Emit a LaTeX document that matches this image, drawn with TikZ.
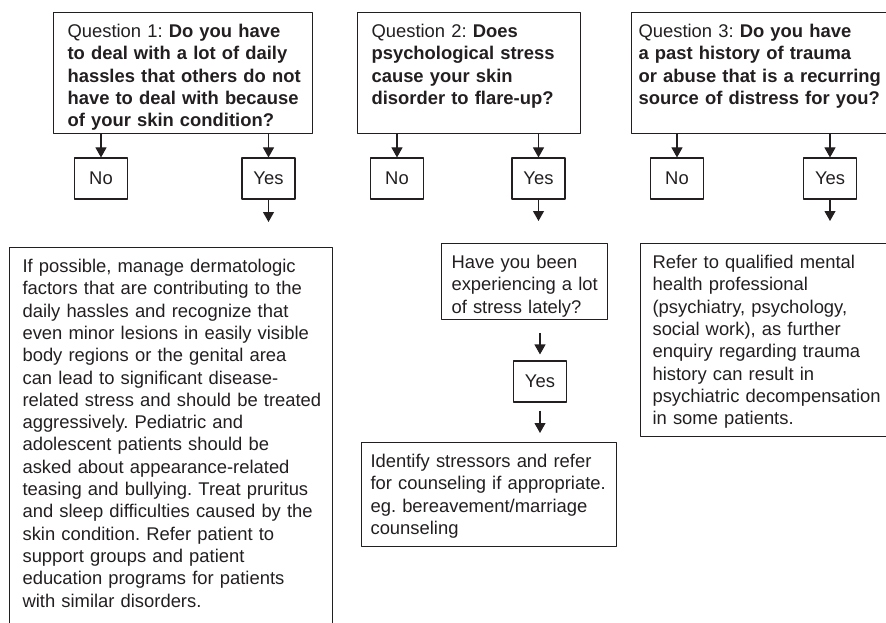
\documentclass[tikz,border=0pt]{standalone}
\usepackage{fontspec}
\setmainfont{Liberation Sans}
\usetikzlibrary{arrows.meta}
\definecolor{ink}{HTML}{231F20}
\frenchspacing
\newcommand\boxlines[1]{\begin{tabular}[t]{@{}l@{}}#1\end{tabular}}

\begin{document}
\begin{tikzpicture}[x=1pt,y=-1pt,line join=round,line width=1.1pt,color=ink,
  >={Triangle[length=10pt,width=11pt]},
  every node/.style={font=\fontsize{18.4}{22.3}\selectfont},
  qbox/.style={draw,anchor=north west,align=left,inner ysep=5pt,text height=20pt},
  ansbox/.style={draw,minimum width=53pt,minimum height=41pt,inner sep=0pt}]
\useasboundingbox (0,0) rectangle (886,623);

% questions
\node[qbox,inner xsep=14pt,text width=231pt,text depth=91pt] (q1) at (53,12)
  {\boxlines{Question 1: \textbf{Do you have}\\ \textbf{to deal with a lot of daily}\\
   \textbf{hassles that others do not}\\ \textbf{have to deal with because}\\
   \textbf{of your skin condition?}}};
\node[qbox,inner xsep=14pt,text width=195pt,text depth=91pt] (q2) at (357,12)
  {\boxlines{Question 2: \textbf{Does}\\ \textbf{psychological stress}\\
   \textbf{cause your skin}\\ \textbf{disorder to flare-up?}}};
\node[qbox,inner xsep=7pt,text width=246pt,text depth=91pt] (q3) at (631,12)
  {\boxlines{Question 3: \textbf{Do you have}\\ \textbf{a past history of trauma}\\
   \textbf{or abuse that is a recurring}\\ \textbf{source of distress for you?}}};

% answers
\node[ansbox] (no1)  at (101,178.5) {No};
\node[ansbox] (yes1) at (268.5,178.5) {Yes};
\node[ansbox] (no2)  at (397,178.5) {No};
\node[ansbox] (yes2) at (538.5,178.5) {Yes};
\node[ansbox] (no3)  at (677,178.5) {No};
\node[ansbox] (yes3) at (830,178.5) {Yes};

% advice
\node[qbox,inner xsep=13pt,text width=297pt,text depth=370pt] (advice) at (9,247)
  {\boxlines{If possible, manage dermatologic\\ factors that are contributing to the\\
   daily hassles and recognize that\\ even minor lesions in easily visible\\
   body regions or the genital area\\ can lead to significant disease-\\
   related stress and should be treated\\ aggressively. Pediatric and\\
   adolescent patients should be\\ asked about appearance-related\\
   teasing and bullying. Treat pruritus\\ and sleep difficulties caused by the\\
   skin condition. Refer patient to\\ support groups and patient\\
   education programs for patients\\ with similar disorders.}};
\node[qbox,inner xsep=10pt,text width=146pt,text depth=46pt] (stress) at (441,243)
  {\boxlines{Have you been\\ experiencing a lot\\ of stress lately?}};
\node[ansbox] (yes4) at (540,381.5) {Yes};
\node[qbox,inner xsep=9pt,text width=237pt,text depth=74pt] (identify) at (361,442)
  {\boxlines{Identify stressors and refer\\ for counseling if appropriate.\\
   eg. bereavement/marriage\\ counseling}};
\node[qbox,inner xsep=12pt,text width=236pt,text depth=163pt] (refer) at (640,243)
  {\boxlines{Refer to qualified mental\\ health professional\\ (psychiatry, psychology,\\
   social work), as further\\ enquiry regarding trauma\\ history can result in\\
   psychiatric decompensation\\ in some patients.}};

% arrows
\draw[->] (q1.south -| no1) -- (no1.north);
\draw[->] (q1.south -| yes1) -- (yes1.north);
\draw[->] (q2.south -| no2) -- (no2.north);
\draw[->] (q2.south -| yes2) -- (yes2.north);
\draw[->] (q3.south -| no3) -- (no3.north);
\draw[->] (q3.south -| yes3) -- (yes3.north);
\draw[->,shorten >=25pt] (yes1.south) -- (advice.north -| yes1);
\draw[->,shorten >=22pt] (yes2.south) -- (stress.north -| yes2);
\draw[->,shorten >=22pt] (yes3.south) -- (refer.north -| yes3);
\draw[->,shorten <=13pt,shorten >=6pt] (stress.south -| yes4) -- (yes4.north);
\draw[->,shorten <=8pt,shorten >=9pt] (yes4.south) -- (identify.north -| yes4);
\end{tikzpicture}
\end{document}
